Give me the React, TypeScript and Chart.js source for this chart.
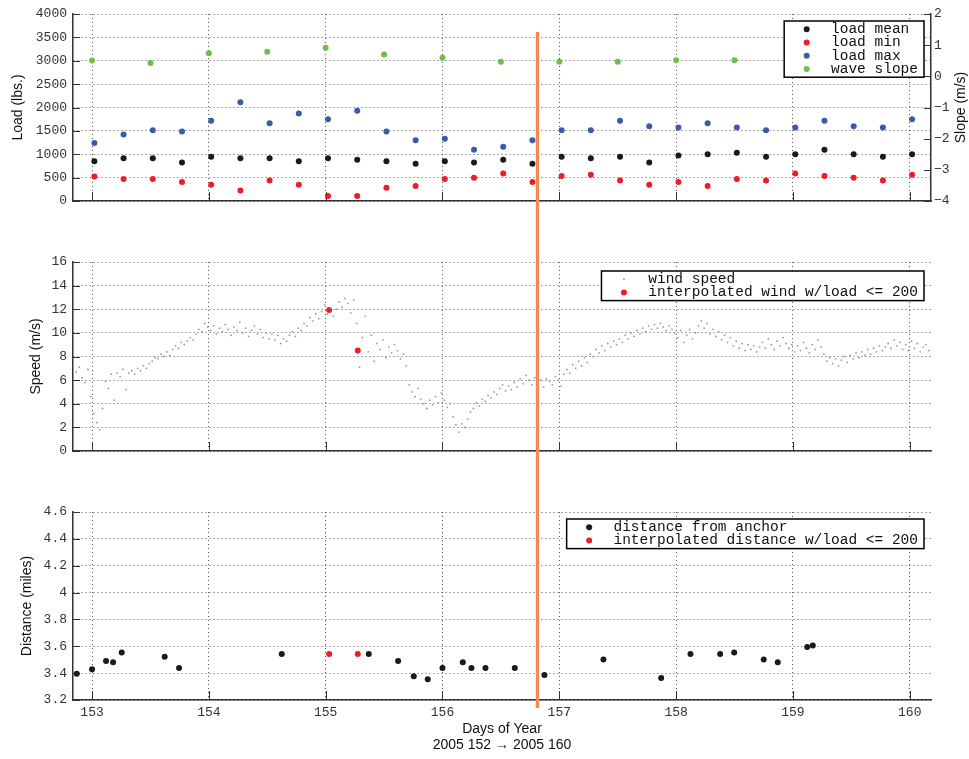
import React, { useEffect, useRef } from "react";
import { Chart, registerables } from "chart.js";

Chart.register(...registerables);

// ---------------- data ----------------
const X_MIN = 152.837;
const X_MAX = 160.182;
const X_TICK_STEP = 1;
const MARKER_DAY = 156.813;

const LOAD_TIMES = [
  153.02, 153.27, 153.52, 153.77, 154.02, 154.27, 154.52, 154.77, 155.02, 155.27,
  155.52, 155.77, 156.02, 156.27, 156.52, 156.77, 157.02, 157.27, 157.52, 157.77,
  158.02, 158.27, 158.52, 158.77, 159.02, 159.27, 159.52, 159.77, 160.02,
];
const LOAD_MEAN = [
  852, 916, 916, 824, 945, 916, 916, 852, 916, 881, 852, 796, 852, 824,
  881, 796, 945, 916, 945, 824, 973, 1002, 1030, 945, 1002, 1094, 1002, 945, 1002,
];
const LOAD_MIN = [
  526, 469, 469, 405, 348, 227, 440, 348, 107, 107, 284, 320, 469, 497,
  590, 405, 533, 561, 440, 348, 405, 320, 469, 440, 590, 533, 497, 440, 561,
];
const LOAD_MAX = [
  1243, 1421, 1513, 1485, 1719, 2110, 1663, 1869, 1748, 1932, 1485, 1300, 1329, 1094,
  1158, 1300, 1513, 1513, 1719, 1599, 1570, 1663, 1570, 1513, 1570, 1719, 1599, 1570, 1748,
];
const WAVE_TIMES = [153.0, 153.5, 154.0, 154.5, 155.0, 155.5, 156.0, 156.5, 157.0, 157.5, 158.0, 158.5];
const WAVE_SLOPE = [0.51, 0.43, 0.74, 0.79, 0.92, 0.7, 0.6, 0.47, 0.47, 0.47, 0.52, 0.52];

const LOAD_TICKS = { min: 0, max: 4000, step: 500 };
const SLOPE_TICKS = { min: -4, max: 2, step: 1 };
const SPEED_TICKS = { min: 0, max: 16, step: 2 };
const DIST_TICKS = { min: 3.2, max: 4.6, step: 0.2 };

// wind speed samples, regularly spaced in time
const WIND_START = 152.84;
const WIND_STEP = 0.025;
const WIND_SPEED = [
  5.6, 6.7, 7.1, 6.2, 5.8, 6.9, 4.6, 3.2, 2.4, 1.8,
  3.6, 5.9, 5.3, 6.5, 4.3, 6.6, 6.3, 6.9, 5.2, 6.6,
  6.8, 6.5, 7.0, 6.8, 7.2, 7.0, 7.4, 7.6, 7.9, 7.8,
  8.2, 8.0, 8.4, 8.1, 8.6, 8.9, 8.7, 9.2, 9.0, 9.3,
  9.6, 9.4, 9.9, 10.3, 10.1, 10.8, 10.5, 10.2, 10.6, 9.9,
  10.4, 10.1, 10.7, 10.3, 9.8, 10.5, 10.2, 10.9, 10.0, 10.4,
  9.7, 10.2, 10.6, 9.9, 10.3, 9.6, 10.0, 9.5, 9.9, 9.4,
  9.8, 9.1, 9.5, 9.3, 9.8, 10.1, 9.7, 10.4, 10.2, 10.8,
  10.6, 11.3, 11.0, 11.6, 11.2, 11.8, 12.4, 11.6, 12.1, 11.4,
  12.0, 12.6, 12.2, 12.9, 12.5, 11.7, 12.8, 10.8, 7.1, 9.6,
  11.4, 8.4, 9.8, 7.6, 9.1, 8.6, 9.4, 7.9, 8.8, 8.3,
  9.0, 8.5, 7.8, 8.2, 7.2, 5.6, 5.0, 4.6, 5.3, 4.4,
  4.0, 3.6, 4.3, 3.9, 4.6, 4.1, 4.9, 4.3, 3.7, 4.0,
  2.9, 2.2, 1.6, 2.3, 2.0, 2.7, 3.3, 3.6, 4.1, 3.8,
  4.4, 4.2, 4.7, 4.5, 5.0, 4.8, 5.3, 5.6, 5.1, 5.5,
  5.2, 5.8, 5.4, 6.1, 5.7, 6.4, 6.0, 5.6, 6.2, 5.8,
  6.0, 5.4, 6.1, 5.9, 5.6, 6.3, 6.0, 5.5, 6.5, 6.9,
  6.6, 7.3, 7.0, 7.6, 7.2, 7.9, 7.5, 8.2, 8.0, 8.6,
  8.3, 8.9, 8.5, 9.1, 8.8, 9.3, 9.0, 9.5, 9.2, 9.8,
  9.5, 10.0, 9.7, 10.2, 9.9, 10.4, 10.1, 10.6, 10.3, 10.7,
  10.4, 10.8, 10.5, 10.2, 10.6, 10.3, 10.0, 9.6, 10.2, 9.2,
  9.8, 10.3, 9.5, 10.0, 10.6, 11.0, 10.4, 10.8, 9.9, 10.3,
  9.7, 10.1, 9.4, 9.8, 9.2, 9.6, 8.9, 9.3, 8.7, 9.1,
  8.5, 9.0, 8.6, 8.9, 8.4, 8.8, 9.2, 8.7, 9.5, 9.0,
  8.6, 9.3, 8.9, 9.6, 9.1, 8.7, 9.0, 8.4, 8.9, 8.5,
  9.2, 8.7, 8.3, 9.0, 8.6, 9.4, 8.8, 8.2, 7.6, 7.9,
  7.4, 7.8, 7.2, 7.7, 8.0, 7.5, 8.1, 7.8, 8.3, 7.9,
  8.4, 8.1, 8.6, 8.2, 8.7, 8.4, 8.9, 8.5, 8.8, 9.1,
  8.7, 9.4, 8.9, 9.2, 8.6, 9.0, 8.5, 9.3, 8.7, 9.1,
  8.4, 8.8, 9.0, 8.5,
];
const INTERP_WIND_TIMES = [155.03, 155.275];
const INTERP_WIND = [11.94, 8.51];

const DIST_TIMES = [
  152.869, 153.0, 153.12, 153.18, 153.254, 153.622, 153.745, 154.624, 155.369, 155.62,
  155.754, 155.874, 156.0, 156.174, 156.248, 156.368, 156.619, 156.873, 157.378, 157.872,
  158.123, 158.377, 158.497, 158.75, 158.87, 159.122, 159.17,
];
const DIST = [
  3.396, 3.429, 3.491, 3.481, 3.553, 3.523, 3.439, 3.543, 3.543, 3.491,
  3.377, 3.354, 3.439, 3.481, 3.439, 3.439, 3.439, 3.387, 3.501, 3.364,
  3.543, 3.543, 3.553, 3.501, 3.481, 3.595, 3.605,
];
const INTERP_DIST_TIMES = [155.03, 155.275];
const INTERP_DIST = [3.543, 3.543];

// ---------------- styles ----------------
const BLACK = "#1a1a1a";
const RED = "#ee1c24";
const BLUE = "#3a5aab";
const GREEN = "#6cc04a";
const ORANGE = "#f5894e";
const WIND_GRAY = "#9a9a9a";
const AXIS_COLOR = "#333333";
const GRID_COLOR = "rgba(50,50,50,0.85)";
const MONO = "'Liberation Mono', 'DejaVu Sans Mono', monospace";
const SANS = "'Liberation Sans', Arial, Helvetica, sans-serif";
const TICK_FONT = { family: MONO, size: 13 };
const TITLE_FONT = { family: SANS, size: 14 };
const LEGEND_FONT = `14.5px ${MONO}`;

const W = 969;

const pts = (xs: number[], ys: number[]) => ys.map((y, i) => ({ x: xs[i], y }));
const windPts = () => WIND_SPEED.map((y, i) => ({ x: WIND_START + WIND_STEP * i, y }));
const fmtNum = (v: number) => {
  const n = Number(Number(v).toFixed(2));
  return n < 0 ? "\u2212" + Math.abs(n) : String(n);
};

// ---------------- plugins ----------------
function makeInTicks(lengths: Record<string, number>) {
  return {
    id: "inTicks",
    beforeDatasetsDraw(chart: any) {
      const ctx = chart.ctx;
      ctx.save();
      ctx.strokeStyle = AXIS_COLOR;
      ctx.lineWidth = 1;
      Object.keys(lengths).forEach((id) => {
        const s = chart.scales[id];
        if (!s) return;
        const len = lengths[id];
        s.ticks.forEach((t: any) => {
          const p = Math.round(s.getPixelForValue(t.value)) + 0.5;
          ctx.beginPath();
          if (s.isHorizontal()) {
            ctx.moveTo(p, s.top);
            ctx.lineTo(p, s.top - len);
          } else if (s.position === "left") {
            ctx.moveTo(s.right, p);
            ctx.lineTo(s.right + len, p);
          } else {
            ctx.moveTo(s.left, p);
            ctx.lineTo(s.left - len, p);
          }
          ctx.stroke();
        });
      });
      ctx.restore();
    },
  };
}

function makeMarker(fromY: number, toY: number | null) {
  return {
    id: "markerLine",
    afterDraw(chart: any) {
      const ctx = chart.ctx;
      const x = chart.scales.x.getPixelForValue(MARKER_DAY);
      ctx.save();
      ctx.strokeStyle = ORANGE;
      ctx.lineWidth = 3.3;
      ctx.beginPath();
      ctx.moveTo(x, fromY);
      ctx.lineTo(x, toY == null ? chart.height : toY);
      ctx.stroke();
      ctx.restore();
    },
  };
}

function makeLegend(offsetTop: number) {
  return {
    id: "boxLegend",
    afterDraw(chart: any) {
      const ctx = chart.ctx;
      const items = chart.data.datasets.map((d: any) => ({
        label: d.label,
        color: d.backgroundColor,
        r: d.pointRadius,
      }));
      ctx.save();
      ctx.font = LEGEND_FONT;
      const maxW = Math.max(...items.map((i: any) => ctx.measureText(i.label).width));
      const rowH = 13.3;
      const w = 22.5 + 24.3 + maxW + 6;
      const h = items.length * rowH + 3;
      const right = chart.chartArea.right - 7;
      const left = right - w;
      const top = chart.chartArea.top + offsetTop;
      ctx.fillStyle = "#ffffff";
      ctx.fillRect(left, top, w, h);
      ctx.strokeStyle = "#000000";
      ctx.lineWidth = 1.5;
      ctx.strokeRect(left, top, w, h);
      items.forEach((it: any, i: number) => {
        const cy = top + 1.5 + rowH * (i + 0.5);
        ctx.fillStyle = it.color;
        ctx.beginPath();
        ctx.arc(left + 22.5, cy, it.r, 0, Math.PI * 2);
        ctx.fill();
        ctx.fillStyle = "#111111";
        ctx.textBaseline = "middle";
        ctx.textAlign = "left";
        ctx.fillText(it.label, left + 22.5 + 24.3, cy);
      });
      ctx.restore();
    },
  };
}

function makeRightTitle(text: string, x: number) {
  return {
    id: "rightTitle",
    afterDraw(chart: any) {
      const ctx = chart.ctx;
      const a = chart.chartArea;
      ctx.save();
      ctx.font = `${TITLE_FONT.size}px ${SANS}`;
      ctx.fillStyle = "#111111";
      ctx.textAlign = "center";
      ctx.textBaseline = "middle";
      ctx.translate(x, (a.top + a.bottom) / 2);
      ctx.rotate(-Math.PI / 2);
      ctx.fillText(text, 0, 0);
      ctx.restore();
    },
  };
}

// ---------------- scale builders ----------------
function xScale(showLabels: boolean, height: number, title?: string[]) {
  return {
    type: "linear",
    position: "bottom",
    min: X_MIN,
    max: X_MAX,
    ticks: {
      stepSize: X_TICK_STEP,
      includeBounds: false,
      display: showLabels,
      padding: 5,
      font: TICK_FONT,
      color: "#333",
      maxRotation: 0,
      autoSkip: false,
      callback: (v: number) => fmtNum(v),
    },
    grid: { color: GRID_COLOR, lineWidth: 1, drawTicks: false },
    border: { display: true, color: AXIS_COLOR, width: 1.5, dash: [1, 3] },
    title: title
      ? { display: true, text: title, font: TITLE_FONT, color: "#111", padding: { top: 0, bottom: 5 } }
      : { display: false },
    afterFit: (s: any) => {
      s.height = height;
    },
  };
}

function yLeft(t: { min: number; max: number; step: number }, title: string, titlePad: number) {
  return {
    type: "linear",
    position: "left",
    min: t.min,
    max: t.max,
    ticks: { stepSize: t.step, padding: 6, font: TICK_FONT, color: "#333", callback: (v: number) => fmtNum(v) },
    grid: { color: GRID_COLOR, lineWidth: 1, drawTicks: false },
    border: { display: true, color: AXIS_COLOR, width: 1.5, dash: [1, 3] },
    title: { display: true, text: title, font: TITLE_FONT, color: "#111", padding: { top: titlePad, bottom: 0 } },
    afterFit: (s: any) => {
      s.width = 73;
    },
  };
}

function dot(label: string, data: any[], color: string, r = 3, extra: any = {}) {
  return {
    label,
    data,
    backgroundColor: color,
    borderColor: color,
    borderWidth: 0,
    pointRadius: r,
    pointHoverRadius: r,
    ...extra,
  };
}

const commonOptions = (padTop: number, padRight: number) => ({
  responsive: false,
  animation: false,
  events: [],
  layout: { padding: { top: padTop, right: padRight, left: 0, bottom: 0 } },
  plugins: { legend: { display: false }, tooltip: { enabled: false }, title: { display: false } },
});

// ---------------- chart configs ----------------
function loadConfig(): any {
  return {
    type: "scatter",
    data: {
      datasets: [
        dot("load mean", pts(LOAD_TIMES, LOAD_MEAN), BLACK),
        dot("load min", pts(LOAD_TIMES, LOAD_MIN), RED),
        dot("load max", pts(LOAD_TIMES, LOAD_MAX), BLUE),
        dot("wave slope", pts(WAVE_TIMES, WAVE_SLOPE), GREEN, 3, { yAxisID: "y2" }),
      ],
    },
    options: {
      ...commonOptions(14, 0),
      scales: {
        x: xScale(false, 14),
        y: yLeft(LOAD_TICKS, "Load (lbs.)", 10),
        y2: {
          type: "linear",
          position: "right",
          min: SLOPE_TICKS.min,
          max: SLOPE_TICKS.max,
          ticks: { stepSize: SLOPE_TICKS.step, padding: 3, font: TICK_FONT, color: "#333", callback: (v: number) => fmtNum(v) },
          grid: { display: false, drawTicks: false, drawOnChartArea: false },
          border: { display: true, color: AXIS_COLOR, width: 1.5 },
          title: { display: false },
          afterFit: (s: any) => {
            s.width = 38;
          },
        },
      },
    },
    plugins: [
      makeInTicks({ x: 9, y: 7, y2: 7 }),
      makeMarker(32, null),
      makeLegend(7),
      makeRightTitle("Slope (m/s)", 961),
    ],
  };
}

function windConfig(): any {
  return {
    type: "scatter",
    data: {
      datasets: [
        dot("wind speed", windPts(), WIND_GRAY, 0.9),
        dot("interpolated wind w/load <= 200", pts(INTERP_WIND_TIMES, INTERP_WIND), RED),
      ],
    },
    options: {
      ...commonOptions(47, 38),
      scales: {
        x: xScale(false, 14),
        y: yLeft(SPEED_TICKS, "Speed (m/s)", 27.6),
      },
    },
    plugins: [makeInTicks({ x: 9, y: 7 }), makeMarker(0, null), makeLegend(9)],
  };
}

function distConfig(): any {
  return {
    type: "scatter",
    data: {
      datasets: [
        dot("distance from anchor", pts(DIST_TIMES, DIST), BLACK),
        dot("interpolated distance w/load <= 200", pts(INTERP_DIST_TIMES, INTERP_DIST), RED),
      ],
    },
    options: {
      ...commonOptions(47, 38),
      scales: {
        x: xScale(true, 59, ["Days of Year", "2005 152 \u2192 2005 160"]),
        y: yLeft(DIST_TICKS, "Distance (miles)", 19),
      },
    },
    plugins: [makeInTicks({ x: 9, y: 7 }), makeMarker(0, 243), makeLegend(7)],
  };
}

// ---------------- components ----------------
function Panel({ top, height, make }: { top: number; height: number; make: () => any }) {
  const ref = useRef<HTMLCanvasElement | null>(null);
  useEffect(() => {
    if (!ref.current) return;
    const chart = new Chart(ref.current, make());
    return () => chart.destroy();
  }, [make]);
  return (
    <canvas
      ref={ref}
      width={W}
      height={height}
      style={{ position: "absolute", left: 0, top, width: W, height, display: "block" }}
    />
  );
}

export default function App() {
  return (
    <div
      style={{
        position: "fixed",
        left: 0,
        top: 0,
        width: W,
        height: 759,
        background: "#ffffff",
        overflow: "hidden",
      }}
    >
      <Panel top={0} height={215} make={loadConfig} />
      <Panel top={215} height={250} make={windConfig} />
      <Panel top={465} height={294} make={distConfig} />
    </div>
  );
}
